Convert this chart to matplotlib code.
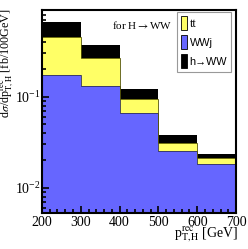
import numpy as np
import matplotlib
matplotlib.use('Agg')
import matplotlib.pyplot as plt
from matplotlib.patches import Patch
from matplotlib.ticker import MultipleLocator, LogLocator, NullFormatter

# bin edges in p_T,H rec [GeV]
edges = [200, 300, 400, 500, 600, 700]

# stacked components [fb/100GeV]
wwj = [0.173, 0.133, 0.067, 0.0253, 0.0184]
ttbar = [0.277, 0.137, 0.028, 0.0060, 0.0026]
hww = [0.220, 0.102, 0.027, 0.0063, 0.0027]

legend_labels = ['tt', 'WWj', 'h\u2192WW']

ymin, ymax = 0.0053, 0.9

plt.rcParams['font.family'] = ['Liberation Serif', 'DejaVu Serif']
plt.rcParams['mathtext.fontset'] = 'stix'

fig = plt.figure(figsize=(2.48, 2.49), dpi=100)
ax = fig.add_axes([0.169, 0.145, 0.783, 0.815])

lvl1 = np.array(wwj)
lvl2 = lvl1 + np.array(ttbar)
lvl3 = lvl2 + np.array(hww)

ax.stairs(lvl1, edges, baseline=ymin, fill=True, color='#6666ff')
ax.stairs(lvl2, edges, baseline=lvl1, fill=True, color='#ffff66')
ax.stairs(lvl3, edges, baseline=lvl2, fill=True, color='black')
ax.stairs(lvl1, edges, baseline=None, color='#333355', lw=0.6)
ax.stairs(lvl2, edges, baseline=None, color='#555500', lw=0.6)

ax.set_yscale('log')
ax.set_xlim(200, 700)
ax.set_ylim(ymin, ymax)

ax.xaxis.set_major_locator(MultipleLocator(100))
ax.xaxis.set_minor_locator(MultipleLocator(20))
ax.yaxis.set_major_locator(LogLocator(base=10))
ax.yaxis.set_minor_locator(LogLocator(base=10, subs=np.arange(2, 10)))
ax.yaxis.set_minor_formatter(NullFormatter())
ax.tick_params(which='both', direction='in', top=False, right=False,
               labelsize=10, width=1.2)
ax.tick_params(which='major', length=5)
ax.tick_params(which='minor', length=3)
ax.tick_params(axis='x', pad=2)
ax.tick_params(axis='y', pad=1)
for s in ax.spines.values():
    s.set_linewidth(1.5)

ax.set_ylabel(r'd$\sigma$/dp$^{\rm rec}_{\rm T,H}$ [fb/100GeV]', fontsize=8.7,
              va='center')
ax.yaxis.set_label_coords(-0.178, 0.74)
ax.set_xlabel(r'p$^{\rm rec}_{\rm T,H}$ [GeV]', fontsize=10, loc='right')
ax.xaxis.set_label_coords(1.01, -0.06)

ax.text(0.36, 0.926, r'for H$\rightarrow$WW', transform=ax.transAxes, fontsize=8,
        va='center', ha='left')

handles = [Patch(facecolor='#ffff66', edgecolor='black', lw=0.6),
           Patch(facecolor='#6666ff', edgecolor='black', lw=0.6),
           Patch(facecolor='black', edgecolor='black', lw=0.6)]
leg = ax.legend(handles, legend_labels, loc='upper right',
                bbox_to_anchor=(0.976, 0.99), fancybox=False, framealpha=1,
                edgecolor='#999999', handlelength=0.55, handleheight=1.55,
                handletextpad=0.2, borderpad=0.4, labelspacing=0.5,
                borderaxespad=0.0, prop={'family': 'Liberation Sans', 'size': 7.8})
leg.get_frame().set_linewidth(0.8)
leg.get_texts()[0].set_family('Liberation Serif')
leg.get_texts()[0].set_fontsize(8.5)

fig.savefig('out.png', dpi=100)
